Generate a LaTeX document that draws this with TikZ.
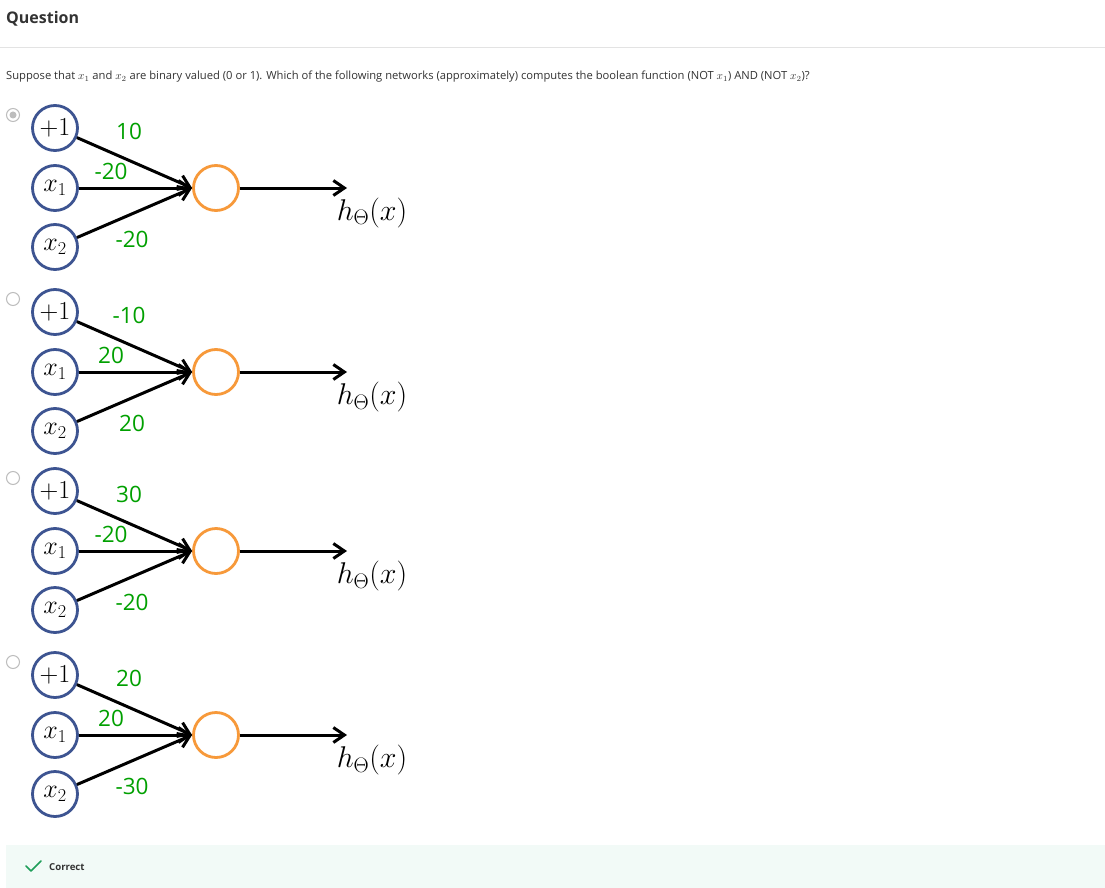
\RequirePackage{fix-cm}
\documentclass[tikz,border=0pt]{standalone}
\usepackage{fontspec}
\setmainfont{Open Sans}
\usetikzlibrary{arrows.meta}
\definecolor{txt}{HTML}{333333}
\definecolor{rule}{HTML}{E3E3E3}
\definecolor{inblue}{HTML}{3D5491}
\definecolor{outorange}{HTML}{F7993A}
\definecolor{wgreen}{HTML}{00A000}
\definecolor{radio}{HTML}{BDBDBD}
\definecolor{okbg}{HTML}{F2FAF7}
\definecolor{okgreen}{HTML}{1F9E5A}
\tikzset{
  inneur/.style={circle,draw=inblue,line width=2.8pt,minimum size=45pt,inner sep=0pt,font=\fontsize{26}{30}\selectfont},
  outneur/.style={circle,draw=outorange,line width=2.8pt,minimum size=45pt,inner sep=0pt},
  arr/.style={line width=3pt,-{Straight Barb[length=11pt,width=15pt,line width=3pt]}},
  wlabel/.style={text=wgreen,font=\fontsize{22.5}{26}\selectfont,inner sep=0pt},
  hlabel/.style={font=\fontsize{30}{34}\selectfont,inner sep=0pt},
  radiob/.style={circle,draw=radio,line width=1pt,minimum size=13pt,inner sep=0pt}
}
\newcommand{\netw}[6]{%
  % #1 name, #2 y of x1 row, #3 #4 #5 weights, #6 radio fill
  \node[radiob] (r#1) at (13,#2-73) {};
  #6
  \node[inneur] (p#1) at (55,#2-60) {$+1$};
  \node[inneur] (a#1) at (55,#2) {$x_1$};
  \node[inneur] (b#1) at (55,#2+59) {$x_2$};
  \node[outneur] (o#1) at (216,#2) {};
  \coordinate (e#1) at (347,#2);
  \draw[arr] (p#1) -- (o#1.west);
  \draw[arr] (a#1) -- (o#1.west);
  \draw[arr] (b#1) -- (o#1.west);
  \draw[arr] (o#1.east) -- (e#1);
  \node[wlabel] (w1#1) at (129,#2-57) {#3};
  \node[wlabel] (w2#1) at (111,#2-17) {#4};
  \node[wlabel] (w3#1) at (132,#2+51) {#5};
  \node[hlabel] (h#1) at (372,#2+25) {$h_\Theta(x)$};
}
\begin{document}
\begin{tikzpicture}[x=1pt,y=-1pt]
\useasboundingbox (0,0) rectangle (1105,888);
\fill[white] (0,0) rectangle (1105,888);
\node[anchor=west,text=txt,font=\fontsize{16}{19}\selectfont\bfseries,inner sep=0pt] (title) at (6,19) {Question};
\draw[rule,line width=1pt] (0,48) -- (1105,48);
\node[anchor=west,text=txt,font=\fontsize{11.2}{13}\selectfont,inner sep=0pt] (q) at (6,77) {Suppose that $x_1$ and $x_2$ are binary valued (0 or 1). Which of the following networks (approximately) computes the boolean function (NOT $x_1$) AND (NOT $x_2$)?};
\netw{A}{188}{10}{-20}{-20}{\fill[radio] (rA) circle (3.5pt);}
\netw{B}{372}{-10}{20}{20}{}
\netw{C}{551}{30}{-20}{-20}{}
\netw{D}{735}{20}{20}{-30}{}
\fill[okbg] (6,845) rectangle (1105,888);
\draw[okgreen,line width=1.6pt,line cap=round,line join=round] (26,866) -- (31,871) -- (41,861);
\node[anchor=west,text=txt,font=\fontsize{9.6}{11}\selectfont\bfseries,inner sep=0pt] (ok) at (49,867) {Correct};
\end{tikzpicture}
\end{document}
